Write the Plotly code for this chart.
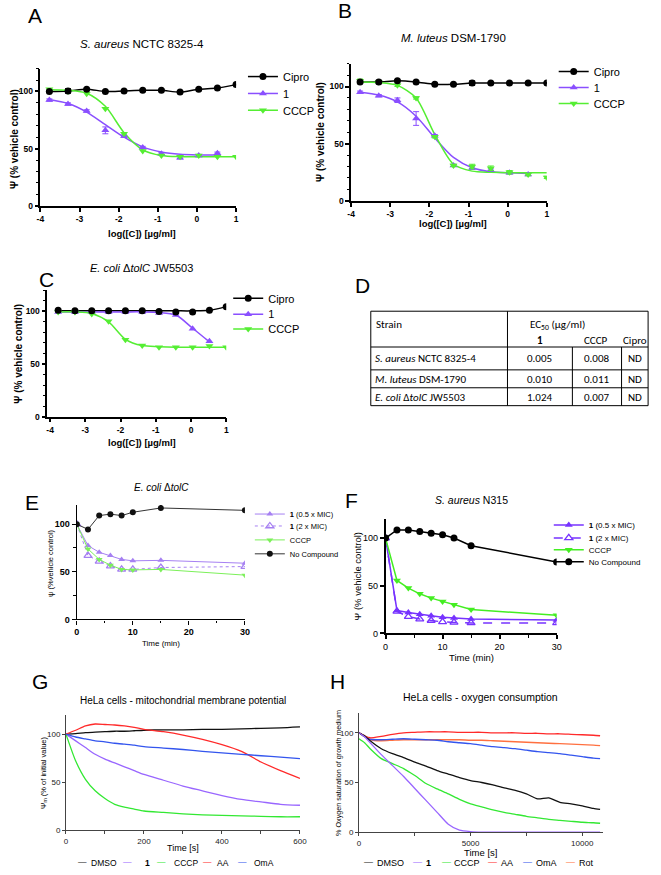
import plotly.graph_objects as go

W, H = 661, 875
FONT = "Liberation Sans, Arial, sans-serif"


def px(x):
    return x / W


def py(y):
    return 1 - y / H


# ------------------------------------------------------------------ data
log_dose = [-3.771, -3.294, -2.817, -2.340, -1.862, -1.385, -0.908, -0.431, 0.046, 0.523, 1.000]
log_ticks = [-4, -3, -2, -1, 0, 1]
log_tick_text = ["-4", "-3", "-2", "-1", "0", "1"]
psi_ticks = [0, 50, 100]

# Panel A  S. aureus NCTC 8325-4
a_cipro = [100, 100.5, 102, 100, 100.5, 101, 101, 99.5, 102, 103, 106]
a_cipro_err = [1, 2, 0.5, 0.5, 0.5, 0.5, 0.5, 0.5, 0.5, 0.5, 0.5]
a_cmpd1 = [92.5, 89, 83, 66, 61, 51, 45.5, 42, 44, 46]
a_cmpd1_err = [1, 1, 1, 3, 1, 1, 1, 1, 1, 1]
a_cccp = [102, 100, 98, 85, 63, 48, 44, 43, 44, 43, 43]
a_fit_cmpd1 = [93, 89.5, 82, 71, 60, 51.5, 47, 45, 44.5, 44.5]
a_fit_cccp = [101.5, 101, 98.5, 87, 64, 49, 44, 43, 43, 43, 43]

# Panel B  M. luteus DSM-1790
b_cipro = [104, 104, 105, 104, 102, 102, 103, 103, 103, 103, 103]
b_cipro_err = [1, 1.5, 0.5, 0.5, 0.5, 0.5, 2, 0.5, 0.5, 0.5, 0.5]
b_cmpd1 = [95, 92, 88, 72, 57, 31, 29, 27, 24.5, 23]
b_cmpd1_err = [1, 1, 2, 6, 1, 1, 1.5, 1, 1, 1]
b_cccp = [105, 104, 101, 90, 56, 31, 30, 28.5, 25, 23, 20.5]
b_cccp_err = [1.5, 1, 1, 1, 1, 1, 2, 2, 1.5, 1, 1]
b_fit_cmpd1 = [95, 92.5, 86.5, 74, 55, 38, 29, 25.5, 24.5, 24]
b_fit_cccp = [104, 103.5, 101, 90, 58, 32, 26, 25, 24.5, 24.5, 24.5]

# Panel C  E. coli dtolC JW5503
c_cipro = [101, 100.5, 100.5, 100.5, 100.5, 100.5, 100, 99.5, 99.5, 101, 104.5]
c_cmpd1 = [99.5, 99.5, 99.5, 99.5, 99.5, 99.5, 98.5, 96.5, 83.5, 71.5]
c_cccp = [99.5, 99.5, 97.5, 90.5, 73, 67.5, 66, 66, 66, 67, 66]
c_fit_cipro = [100.5, 100.5, 100.5, 100.5, 100.5, 100.5, 100.5, 100.5, 100.5, 101, 104.5]
c_fit_cmpd1 = [99.5, 99.5, 99.5, 99.5, 99.5, 99.5, 99, 96.5, 84, 71]
c_fit_cccp = [99.5, 99.5, 98, 90, 73.5, 67.5, 66.5, 66, 66, 66, 66]

# Panel D  EC50 table
table_strains = ["<i>S. aureus</i> NCTC 8325-4", "<i>M. luteus</i> DSM-1790", "<i>E. coli</i> Δ<i>tolC</i> JW5503"]
ec50_cmpd1 = ["0.005", "0.010", "1.024"]
ec50_cccp = ["0.008", "0.011", "0.007"]
ec50_cipro = ["ND", "ND", "ND"]

# Panel E  E. coli dtolC time course
e_time = [0, 2, 4, 6, 8, 10, 15, 30]
e_half_mic = [100, 77.5, 70.5, 67, 63, 61.5, 62, 59]
e_two_mic = [100, 67, 61, 56, 52.5, 52.5, 54.5, 55.5]
e_cccp = [100, 74, 63, 57, 52.5, 52, 52.5, 46.5]
e_none = [100, 94.5, 109, 110.5, 109, 112.5, 117, 114.5]

# Panel F  S. aureus N315 time course
f_time = [0, 2, 4, 6, 8, 10, 12, 15, 30]
f_half_mic = [100, 24, 22, 20, 18.5, 17, 16, 15, 14]
f_two_mic = [100, 23, 17.5, 15, 13.5, 12, 11.5, 11, 11]
f_cccp = [100, 55.5, 47.5, 41.5, 37, 33.5, 30, 25, 19]
f_none = [100, 108.5, 108.5, 107, 105, 103.5, 100, 92, 75]

# Panel G  HeLa membrane potential
g_time = [0, 25, 50, 75, 100, 125, 150, 175, 200, 250, 300, 350, 400, 450, 500, 550, 600]
g_dmso = [100, 100.5, 101.5, 102, 102.5, 103, 103, 103.5, 104, 104.5, 104.5, 105, 105, 105.5, 106, 106.5, 107.5]
g_cmpd1 = [100, 93, 86, 79, 74, 70, 66, 62, 58, 52, 46, 41, 36, 32, 29.5, 27, 26]
g_cccp = [100, 72, 53, 41, 33, 27, 24, 22, 20, 18.5, 17, 16, 15.5, 15, 14.5, 14, 14]
g_aa = [100, 104, 108.5, 110.5, 110, 109.5, 108.5, 107, 105, 102.5, 99, 94.5, 89, 82, 71, 62, 54]
g_oma = [100, 97, 95, 93, 92, 90.5, 89.5, 88.5, 87, 85.5, 84, 82, 80.5, 79, 77.5, 76, 74.5]

# Panel H  HeLa oxygen consumption
h_time = [0, 250, 500, 1000, 1500, 2000, 2500, 3000, 3500, 4000, 4500, 5000, 5500, 6000,
          6500, 7000, 7500, 8000, 8500, 9000, 9500, 10000, 10500, 10800]
h_dmso = [100, 97, 92, 84, 79, 75, 70.5, 66.5, 62, 58.5, 55, 52, 50, 47.5, 44.5, 42, 38.5, 33.5,
          34.5, 30, 28.5, 26.5, 24, 23]
h_cmpd1 = [100, 96, 90, 78, 67, 56, 44, 32, 20, 8, 2, 0.5, 0, 0, 0, 0, 0, 0, 0, 0, 0, 0, 0, 0]
h_cccp = [94, 90, 84, 74, 69, 64, 57, 49, 43.5, 38.5, 33, 28.5, 25.5, 22.5, 20, 18, 16, 14.5,
          13, 12, 11, 10, 9.5, 9]
h_aa = [100, 97, 95, 96.5, 98.5, 100, 100.5, 101, 101, 101, 100.5, 100.5, 100.5, 100, 100, 100,
        99.5, 99.5, 99, 99, 98.5, 98, 97.5, 97]
h_oma = [100, 96, 93.5, 93, 93.5, 94, 93.5, 93, 92.5, 91, 90, 89, 87.5, 86, 85, 84, 82.5, 81, 80,
         79, 77.5, 76, 74.5, 74]
h_rot = [100, 96, 93, 92, 92.5, 93, 93, 93, 93, 93, 93, 92.5, 92.5, 92, 91.5, 91, 90.5, 90, 89.5,
         89, 88.5, 88, 87.5, 87]

# ------------------------------------------------------------------ styles
PURPLE = "#8A4FFF"
GREEN = "#55EE33"
BLACK = "#000000"
E_PURPLE = "#A680F2"
E_GREEN = "#7CF05A"
F_PURPLE = "#7733FF"
F_GREEN = "#44EE22"
G_COL = {"DMSO": "#111111", "1": "#9966FF", "CCCP": "#33E833", "AA": "#FF2A2A", "OmA": "#3355EE", "Rot": "#FF7040"}

fig = go.Figure()
layout = dict(
    width=W, height=H, autosize=False,
    margin=dict(l=0, r=0, t=0, b=0),
    paper_bgcolor="white", plot_bgcolor="white",
    font=dict(family=FONT, color="black"),
)
annotations = []
shapes = []


def axis_pair(n, x0, x1, y_top, y_bot, xrange, yrange, xtickvals, xticktext, ytickvals,
              tickfont, lw=1.5, color="black", xminor=None, yminor=None, ticklen=4):
    s = "" if n == 1 else str(n)
    xa = dict(domain=[px(x0), px(x1)], anchor="y" + s, range=xrange,
              tickmode="array", tickvals=xtickvals, ticktext=xticktext,
              ticks="outside", ticklen=ticklen, tickwidth=lw, tickcolor=color,
              showline=True, linewidth=lw, linecolor=color, showgrid=False,
              zeroline=False, tickfont=tickfont, fixedrange=True)
    ya = dict(domain=[py(y_bot), py(y_top)], anchor="x" + s, range=yrange,
              tickmode="array", tickvals=ytickvals, ticktext=[str(v) for v in ytickvals],
              ticks="outside", ticklen=ticklen, tickwidth=lw, tickcolor=color,
              showline=True, linewidth=lw, linecolor=color, showgrid=False,
              zeroline=False, tickfont=tickfont, fixedrange=True)
    if xminor:
        xa["minor"] = dict(dtick=xminor, ticks="outside", ticklen=2.5, tickwidth=lw * 0.8, tickcolor=color)
    if yminor:
        ya["minor"] = dict(dtick=yminor, ticks="outside", ticklen=2.5, tickwidth=lw * 0.8, tickcolor=color)
    layout["xaxis" + s] = xa
    layout["yaxis" + s] = ya


def text(t, x, y, size, bold=False, italic=False, angle=0, xanchor="center", color="black", family=FONT):
    f = dict(family=family, size=size, color=color)
    if bold:
        f["weight"] = "bold"
    if italic:
        f["style"] = "italic"
    annotations.append(dict(text=t, x=px(x), y=py(y), xref="paper", yref="paper",
                            showarrow=False, xanchor=xanchor, yanchor="middle",
                            textangle=angle, font=f))


legend_count = [0]


def new_legend(text_x, y_center, size):
    legend_count[0] += 1
    key = "legend" if legend_count[0] == 1 else "legend%d" % legend_count[0]
    layout[key] = dict(x=px(text_x - 40), y=py(y_center), xanchor="left", yanchor="middle",
                       bgcolor="rgba(0,0,0,0)", borderwidth=0, itemwidth=30,
                       font=dict(family=FONT, size=size, color="black"))
    return key


def xy(n):
    s = "" if n == 1 else str(n)
    return dict(xaxis="x" + s, yaxis="y" + s)


# ------------------------------------------------------------------ dose-response panels A-C
bold9 = dict(family=FONT, size=8.5, color="black", weight="bold")
axis_pair(1, 37, 236, 69, 207, [-4, 1.0], [0, 120], log_ticks, log_tick_text, psi_ticks, bold9, yminor=10)
axis_pair(2, 353, 552, 64, 202, [-4, 1.0], [0, 120], log_ticks, log_tick_text, psi_ticks, bold9, yminor=10)
axis_pair(3, 44, 226, 292, 419, [-4.08, 1.0], [0, 120], log_ticks, log_tick_text, psi_ticks, bold9, yminor=10)


def dose_panel(n, cipro, cipro_err, cipro_fit, c1, c1_err, c1_fit, cccp, cccp_err, cccp_fit, leg_x, leg_y):
    ax = xy(n)
    # fitted curves
    for xs_len, ys, col in [(len(cipro_fit), cipro_fit, BLACK), (len(c1_fit), c1_fit, PURPLE),
                            (len(cccp_fit), cccp_fit, GREEN)]:
        fig.add_trace(go.Scatter(x=log_dose[:xs_len], y=ys, mode="lines",
                                 line=dict(color=col, width=1.5, shape="spline", smoothing=0.8),
                                 showlegend=False, hoverinfo="skip", **ax))

    def err(a):
        if a:
            return dict(type="data", array=a, visible=True, thickness=1, width=3)
        return dict(visible=False)

    # data points
    fig.add_trace(go.Scatter(x=log_dose[:len(c1)], y=c1, mode="markers", name="1",
                             marker=dict(symbol="triangle-up", size=7, color=PURPLE),
                             error_y=err(c1_err), showlegend=False, **ax))
    fig.add_trace(go.Scatter(x=log_dose[:len(cccp)], y=cccp, mode="markers", name="CCCP",
                             marker=dict(symbol="triangle-down", size=7, color=GREEN),
                             error_y=err(cccp_err), showlegend=False, **ax))
    fig.add_trace(go.Scatter(x=log_dose[:len(cipro)], y=cipro, mode="markers", name="Cipro",
                             marker=dict(symbol="circle", size=7, color=BLACK),
                             error_y=err(cipro_err), showlegend=False, **ax))
    # legend entries
    for i, (nm, sym, col) in enumerate([("Cipro", "circle", BLACK), ("1", "triangle-up", PURPLE),
                                         ("CCCP", "triangle-down", GREEN)]):
        key = new_legend(leg_x, leg_y[i], 11)
        fig.add_trace(go.Scatter(x=[None], y=[None], mode="lines+markers", name=nm,
                                 marker=dict(symbol=sym, size=7, color=col),
                                 line=dict(color=col, width=1.5), legend=key, **ax))


dose_panel(1, a_cipro, a_cipro_err, a_cipro, a_cmpd1, a_cmpd1_err, a_fit_cmpd1,
           a_cccp, None, a_fit_cccp, 283, [77, 94, 111])
dose_panel(2, b_cipro, b_cipro_err, b_cipro, b_cmpd1, b_cmpd1_err, b_fit_cmpd1,
           b_cccp, b_cccp_err, b_fit_cccp, 599, [72, 88, 104])
dose_panel(3, c_cipro, None, c_fit_cipro, c_cmpd1, None, c_fit_cmpd1,
           c_cccp, None, c_fit_cccp, 268, [300, 316, 331])

# titles / labels A-C
text("A", 32, 16, 21)
text("B", 347, 11, 21)
text("C", 43, 281, 21)
text("<i>S. aureus</i> NCTC 8325-4", 140, 44, 11.5)
text("<i>M. luteus</i> DSM-1790", 457, 38, 11.5)
text("<i>E. coli</i> Δ<i>tolC</i> JW5503", 140, 270, 11)
text("Ψ (% vehicle control)", 10, 140, 10, bold=True, angle=-90)
text("Ψ (% vehicle control)", 322, 133, 10, bold=True, angle=-90)
text("Ψ (% vehicle control)", 15, 356, 10, bold=True, angle=-90)
text("log([C]) [µg/ml]", 140, 235, 9.5, bold=True)
text("log([C]) [µg/ml]", 457, 225, 9.5, bold=True)
text("log([C]) [µg/ml]", 140, 445, 9.5, bold=True)

# ------------------------------------------------------------------ table D
text("D", 365, 287, 21)
TL, TR = 373, 655
row_y = [313, 349, 372, 390, 408]
line = dict(color="black", width=1)
for y in row_y:
    shapes.append(dict(type="line", xref="paper", yref="paper", x0=px(TL), x1=px(TR), y0=py(y), y1=py(y), line=line))
for x in [373, 512, 655]:
    shapes.append(dict(type="line", xref="paper", yref="paper", x0=px(x), x1=px(x), y0=py(313), y1=py(408), line=line))
for x in [578, 628]:
    shapes.append(dict(type="line", xref="paper", yref="paper", x0=px(x), x1=px(x), y0=py(349), y1=py(408), line=line))
TFONT = "Carlito, Liberation Sans, Arial, sans-serif"
text("Strain", 376, 326, 11, xanchor="left", family=TFONT)
text("EC<sub>50</sub> (µg/ml)", 563, 327, 11, family=TFONT)
text("<b>1</b>", 545, 342, 11, family=TFONT)
text("CCCP", 602, 342, 11, family=TFONT)
text("Cipro", 642, 342, 11, family=TFONT)
for i in range(3):
    yc = (row_y[i + 1] + row_y[i + 2]) / 2 + 0.5
    text(table_strains[i], 375, yc, 11, xanchor="left", family=TFONT)
    text(ec50_cmpd1[i], 545, yc, 11, family=TFONT)
    text(ec50_cccp[i], 603, yc, 11, family=TFONT)
    text(ec50_cipro[i], 642, yc, 11, family=TFONT)

# ------------------------------------------------------------------ panel E
boldE = dict(family=FONT, size=9, color="black", weight="bold")
axis_pair(4, 74, 245, 508, 623, [0, 30], [0, 120], [0, 10, 20, 30], ["0", "10", "20", "30"],
          psi_ticks, boldE, lw=1.3, xminor=5, yminor=25)
axE = xy(4)
e_series = [
    ("<b>1</b> (0.5 x MIC)", e_half_mic, dict(symbol="triangle-up", size=6, color=E_PURPLE), dict(color=E_PURPLE, width=1)),
    ("<b>1</b> (2 x MIC)", e_two_mic, dict(symbol="triangle-up-open", size=7, color=E_PURPLE, line=dict(width=1.3)), dict(color=E_PURPLE, width=1, dash="dot")),
    ("CCCP", e_cccp, dict(symbol="triangle-down", size=6, color=E_GREEN), dict(color=E_GREEN, width=1)),
    ("No Compound", e_none, dict(symbol="circle", size=6, color="#111111"), dict(color="#333333", width=1)),
]
for (nm, ys, mk, ln), yl in zip(e_series, [517, 529, 543, 557]):
    key = new_legend(290, yl, 7.5)
    fig.add_trace(go.Scatter(x=e_time, y=ys, mode="lines+markers", name=nm, marker=mk, line=ln,
                             legend=key, **axE))
text("E", 28, 505, 21)
text("<i>E. coli</i> Δ<i>tolC</i>", 160, 490, 10)
text("ψ (%vehicle control)", 48, 566, 7.5, angle=-90)
text("Time (min)", 160, 647, 8)

# ------------------------------------------------------------------ panel F
normF = dict(family=FONT, size=9, color="black")
axis_pair(5, 388, 562, 522, 637, [0, 30], [0, 120], [0, 10, 20, 30], ["0", "10", "20", "30"],
          psi_ticks, normF, lw=1.5, xminor=5)
axF = xy(5)
f_series = [
    ("<b>1</b> (0.5 x MIC)", f_half_mic, dict(symbol="triangle-up", size=7, color=F_PURPLE), dict(color=F_PURPLE, width=1.5)),
    ("<b>1</b> (2 x MIC)", f_two_mic, dict(symbol="triangle-up-open", size=7, color=F_PURPLE, line=dict(width=1.3)), dict(color=F_PURPLE, width=1.5, dash="dash")),
    ("CCCP", f_cccp, dict(symbol="triangle-down", size=7, color=F_GREEN), dict(color=F_GREEN, width=1.5)),
    ("No Compound", f_none, dict(symbol="circle", size=7, color=BLACK), dict(color=BLACK, width=1.5)),
]
for (nm, ys, mk, ln), yl in zip(f_series, [528, 541, 553, 565]):
    key = new_legend(594, yl, 8)
    fig.add_trace(go.Scatter(x=f_time, y=ys, mode="lines+markers", name=nm, marker=mk, line=ln,
                             legend=key, **axF))
text("F", 353, 503, 21)
text("<i>S. aureus</i> N315", 475, 503, 10.5)
text("Ψ (% vehicle control)", 360, 580, 9.5, angle=-90)
text("Time (min)", 475, 661, 9.5)

# ------------------------------------------------------------------ panel G
normG = dict(family=FONT, size=8, color="#222222")
axis_pair(6, 63, 301, 719, 835, [0, 600], [0, 120], [0, 200, 400, 600], ["0", "200", "400", "600"],
          psi_ticks, normG, lw=1, color="#444444", xminor=100, ticklen=3)
axG = xy(6)
for nm, ys in [("DMSO", g_dmso), ("1", g_cmpd1), ("CCCP", g_cccp), ("AA", g_aa), ("OmA", g_oma)]:
    fig.add_trace(go.Scatter(x=g_time, y=ys, mode="lines", name=nm,
                             line=dict(color=G_COL[nm], width=1.3, shape="spline", smoothing=0.6),
                             showlegend=False, **axG))
text("G", 37, 685, 21)
text("HeLa cells - mitochondrial membrane potential", 182, 705, 10)
text("Ψ<sub>m</sub> (% of initial value)", 40, 777, 7.5, angle=-90)
text("Time [s]", 182, 853, 9)
for nm, dx, tx in [("DMSO", 80, 86), ("1", 126, 141), ("CCCP", 160, 171), ("AA", 207, 215), ("OmA", 243, 252)]:
    text("—", dx, 867, 8.5, color=G_COL[nm])
    text("<b>1</b>" if nm == "1" else nm, tx, 868, 8.5, xanchor="left")

# ------------------------------------------------------------------ panel H
axis_pair(7, 361, 609, 717, 837, [0, 10924], [0, 120], [0, 5000, 10000], ["0", "5000", "10000"],
          psi_ticks, normG, lw=1, color="#444444", xminor=2500, ticklen=3)
axH = xy(7)
for nm, ys in [("Rot", h_rot), ("OmA", h_oma), ("AA", h_aa), ("DMSO", h_dmso), ("CCCP", h_cccp), ("1", h_cmpd1)]:
    fig.add_trace(go.Scatter(x=h_time, y=ys, mode="lines", name=nm,
                             line=dict(color=G_COL[nm], width=1.3, shape="spline", smoothing=0.6),
                             showlegend=False, **axH))
text("H", 339, 685, 21)
text("HeLa cells - oxygen consumption", 485, 701, 10.5)
text("% Oxygen saturation of growth medium", 340, 777, 7.2, angle=-90)
text("Time [s]", 485, 857, 9.5)
for nm, dx, tx in [("DMSO", 371, 377), ("1", 420, 427), ("CCCP", 450, 456), ("AA", 497, 503), ("OmA", 532, 539), ("Rot", 576, 583)]:
    text("—", dx, 867, 9, color=G_COL[nm])
    text("<b>1</b>" if nm == "1" else nm, tx, 868, 9, xanchor="left")

layout["annotations"] = annotations
layout["shapes"] = shapes
fig.update_layout(layout)
fig.write_html("out.html", config={"displayModeBar": False},
               post_script="document.body.style.margin='0px';document.body.style.overflow='hidden';")
